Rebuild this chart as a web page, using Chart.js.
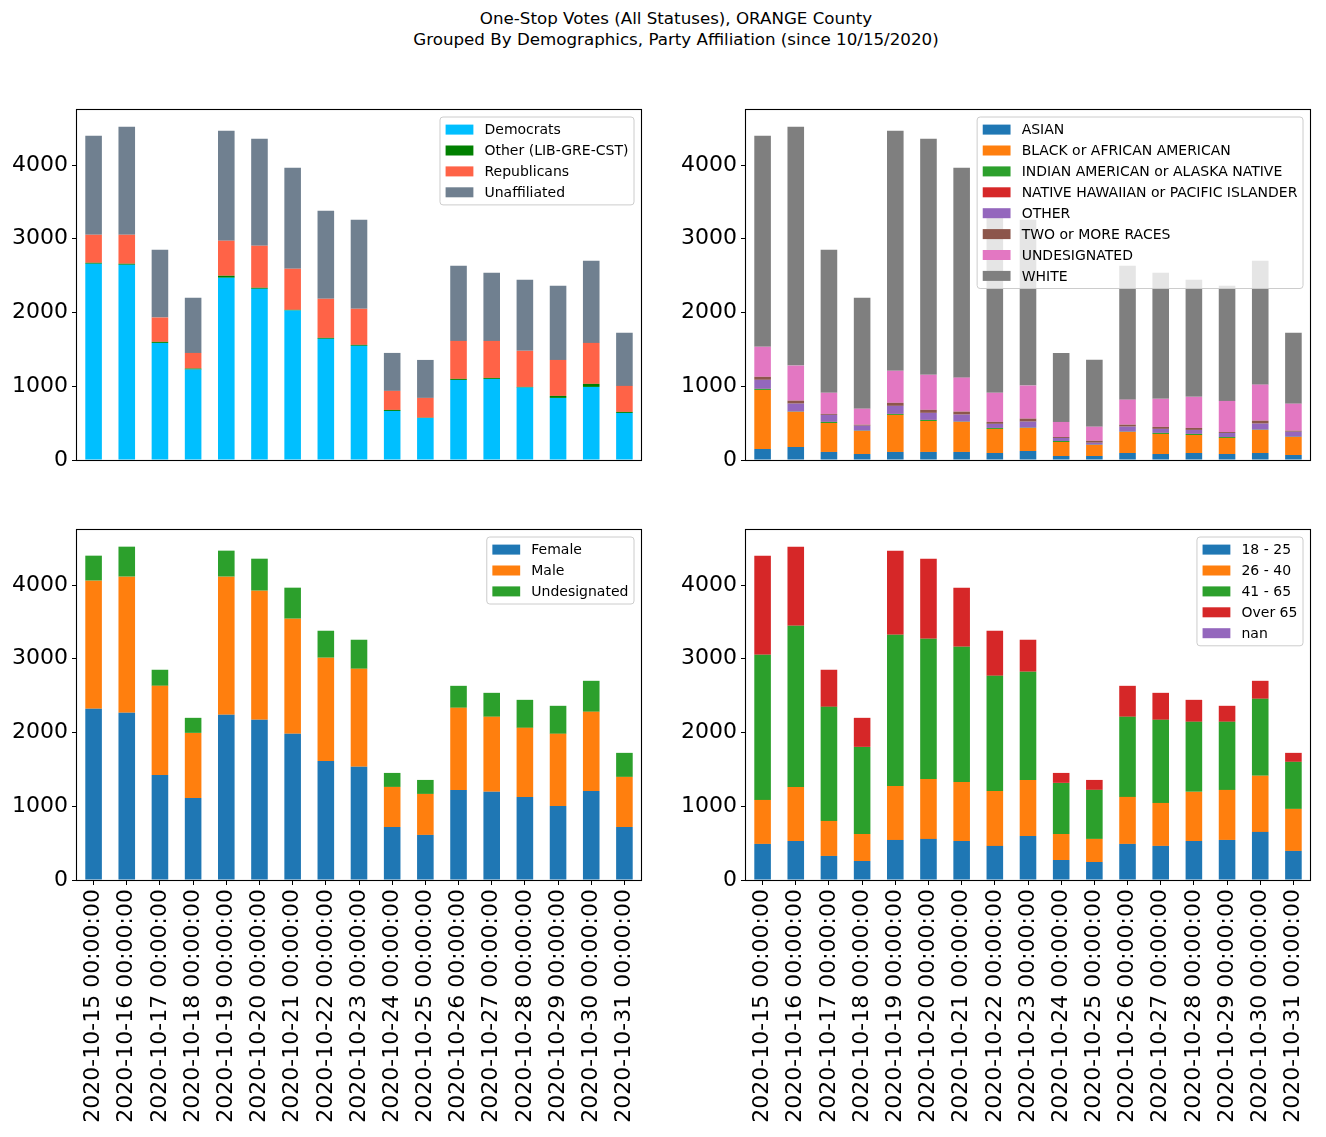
<!DOCTYPE html>
<html>
<head>
<meta charset="utf-8">
<script src="https://cdn.jsdelivr.net/npm/chart.js@4.4.1/dist/chart.umd.min.js"></script>
<style>
    body { margin: 0; background: #fff; }
    #fig { position: relative; width: 1326px; height: 1137px; overflow: hidden; font-family: "DejaVu Sans", sans-serif; }
    #titulo { position: absolute; left: 376px; width: 600px; top: 8px; text-align: center; font-size: 16.7px; line-height: 21px; color: #000; }
    canvas { position: absolute; }
</style>
</head>
<body>
<div id="fig">
    <div id="titulo">One-Stop Votes (All Statuses), ORANGE County<br>Grouped By Demographics, Party Affiliation (since 10/15/2020)</div>
    <canvas id="g1" style="left:0px;top:100px" width="663" height="370"></canvas>
    <canvas id="g2" style="left:663px;top:100px" width="663" height="370"></canvas>
    <canvas id="g3" style="left:0px;top:520px" width="663" height="617"></canvas>
    <canvas id="g4" style="left:663px;top:520px" width="663" height="617"></canvas>
</div>
<script>
// -----------------------------
// DATOS
// -----------------------------
const fechas = [
    "2020-10-15 00:00:00", "2020-10-16 00:00:00", "2020-10-17 00:00:00", "2020-10-18 00:00:00",
    "2020-10-19 00:00:00", "2020-10-20 00:00:00", "2020-10-21 00:00:00", "2020-10-22 00:00:00",
    "2020-10-23 00:00:00", "2020-10-24 00:00:00", "2020-10-25 00:00:00", "2020-10-26 00:00:00",
    "2020-10-27 00:00:00", "2020-10-28 00:00:00", "2020-10-29 00:00:00", "2020-10-30 00:00:00",
    "2020-10-31 00:00:00"
];
const yTicks = [0, 1000, 2000, 3000, 4000];

// partido
const democratas   = [2661, 2647, 1588, 1226, 2471, 2321, 2027, 1643, 1548, 665, 570, 1086, 1100, 982, 842, 991, 638];
const otros        = [13, 14, 14, 14, 27, 14, 9, 13, 13, 14, 3, 14, 13, 9, 27, 41, 14];
const republicanos = [380, 393, 330, 212, 475, 570, 557, 530, 489, 258, 269, 515, 502, 489, 488, 556, 353];
const independientes = [1344, 1466, 919, 747, 1493, 1452, 1371, 1194, 1208, 515, 515, 1018, 923, 963, 1005, 1113, 719];

// raza
const asian     = [149, 176, 109, 81, 109, 109, 109, 95, 122, 54, 54, 95, 81, 95, 81, 95, 68];
const black     = [801, 476, 393, 313, 502, 420, 407, 326, 312, 190, 150, 285, 272, 244, 218, 312, 244];
const indian    = [14, 3, 14, 3, 13, 14, 3, 13, 3, 14, 3, 3, 14, 14, 13, 3, 3];
const hawaiian  = [1, 1, 1, 0, 1, 1, 1, 1, 1, 0, 0, 1, 1, 1, 0, 1, 0];
const otherRace = [122, 108, 95, 68, 109, 95, 95, 55, 82, 41, 27, 68, 54, 54, 55, 82, 68];
const twoRaces  = [41, 41, 13, 13, 41, 41, 41, 27, 41, 13, 27, 27, 27, 27, 13, 40, 14];
const undesRace = [407, 475, 286, 217, 434, 475, 461, 394, 448, 204, 190, 339, 380, 421, 421, 489, 366];
const white     = [2863, 3240, 1940, 1506, 3257, 3202, 2847, 2469, 2249, 936, 909, 1816, 1709, 1587, 1561, 1679, 961];

// género
const female    = [2321, 2267, 1425, 1113, 2240, 2172, 1982, 1615, 1534, 719, 611, 1222, 1195, 1127, 1005, 1208, 719];
const male      = [1738, 1846, 1208, 882, 1873, 1751, 1561, 1399, 1330, 543, 556, 1113, 1018, 936, 977, 1073, 679];
const undesGen  = [339, 407, 218, 204, 353, 434, 421, 366, 394, 190, 190, 298, 325, 380, 380, 420, 326];

// edad
const edad18_25 = [489, 529, 326, 258, 543, 557, 529, 462, 597, 271, 244, 489, 462, 529, 543, 652, 394];
const edad26_40 = [597, 733, 475, 366, 733, 814, 801, 746, 760, 353, 313, 638, 583, 666, 679, 760, 570];
const edad41_65 = [1968, 2186, 1547, 1181, 2050, 1900, 1833, 1561, 1467, 693, 665, 1086, 1127, 950, 923, 1045, 638];
const edadOver65 = [1344, 1072, 503, 394, 1140, 1086, 801, 611, 434, 135, 135, 420, 366, 298, 217, 244, 122];
const edadNan   = [0, 0, 0, 0, 0, 0, 0, 0, 0, 0, 0, 0, 0, 0, 0, 0, 0];

const totales = fechas.map((f, i) => democratas[i] + otros[i] + republicanos[i] + independientes[i]);
const yMax = Math.max(...totales) * 1.05;

// -----------------------------
// PLUGIN: marco y leyenda estilo matplotlib
// -----------------------------
const marcoLeyenda = {
    id: "marcoLeyenda",
    afterDraw(chart) {
        const ctx = chart.ctx;
        const a = chart.chartArea;
        ctx.save();
        ctx.strokeStyle = "#000";
        ctx.lineWidth = 1.1;
        ctx.strokeRect(a.left - 0.5, a.top - 0.5, a.right - a.left + 1, a.bottom - a.top + 1);

        const fs = 14;
        ctx.font = fs + 'px "DejaVu Sans"';
        const items = chart.data.datasets;
        const pad = 5.6, sp = 6.9, hl = 27.8, htp = 11.1, borde = 7;
        const tw = Math.max(...items.map(d => ctx.measureText(d.label).width));
        const w = 2 * pad + hl + htp + tw;
        const h = 2 * pad + items.length * fs + (items.length - 1) * sp;
        const x = a.right - borde - w;
        const y = a.top + borde;

        ctx.beginPath();
        ctx.roundRect(x, y, w, h, 3);
        ctx.fillStyle = "rgba(255,255,255,0.8)";
        ctx.fill();
        ctx.strokeStyle = "#cccccc";
        ctx.lineWidth = 1;
        ctx.stroke();

        items.forEach((d, i) => {
            const yc = y + pad + i * (fs + sp) + fs / 2;
            ctx.fillStyle = d.backgroundColor;
            ctx.fillRect(x + pad, yc - 5, hl, 10);
            ctx.fillStyle = "#000";
            ctx.textBaseline = "middle";
            ctx.textAlign = "left";
            ctx.fillText(d.label, x + pad + hl + htp, yc + 1);
        });
        ctx.restore();
    }
};

// -----------------------------
// GRÁFICOS
// -----------------------------
function sinRelleno(s) {
    s.paddingTop = 0;
    s.paddingBottom = 0;
    s.paddingLeft = 0;
    s.paddingRight = 0;
}

function pintarGrafico(id, series, conEtiquetas, anchoEjeY) {
    const fuente = { family: "DejaVu Sans", size: 22 };
    return new Chart(document.getElementById(id), {
        type: "bar",
        data: {
            labels: fechas,
            datasets: series.map(s => ({
                label: s.label,
                data: s.data,
                backgroundColor: s.color,
                borderWidth: 0,
                barPercentage: 0.5,
                categoryPercentage: 1.0
            }))
        },
        options: {
            responsive: false,
            animation: false,
            events: [],
            layout: { padding: { top: 10, right: 663 - 564 - anchoEjeY, left: 0, bottom: 0 } },
            plugins: { legend: { display: false }, tooltip: { enabled: false } },
            scales: {
                x: {
                    stacked: true,
                    offset: true,
                    border: { display: false },
                    grid: { offset: false, drawOnChartArea: false, drawTicks: conEtiquetas, tickLength: 5, color: "#000" },
                    ticks: { display: conEtiquetas, autoSkip: false, minRotation: 90, maxRotation: 90, font: fuente, color: "#000", padding: 4 },
                    afterFit: s => { s.height = conEtiquetas ? 257 : 10; sinRelleno(s); }
                },
                y: {
                    stacked: true,
                    min: 0,
                    max: yMax,
                    border: { display: false },
                    grid: { drawOnChartArea: false, drawTicks: true, tickLength: 5, color: "#000" },
                    ticks: { font: fuente, color: "#000", padding: 4, callback: v => String(v) },
                    afterBuildTicks: s => { s.ticks = yTicks.map(v => ({ value: v })); },
                    afterFit: s => { s.width = anchoEjeY; sinRelleno(s); }
                }
            }
        },
        plugins: [marcoLeyenda]
    });
}

pintarGrafico("g1", [
    { label: "Democrats", data: democratas, color: "#00bfff" },
    { label: "Other (LIB-GRE-CST)", data: otros, color: "#008000" },
    { label: "Republicans", data: republicanos, color: "#ff6347" },
    { label: "Unaffiliated", data: independientes, color: "#708090" }
], false, 77);

pintarGrafico("g2", [
    { label: "ASIAN", data: asian, color: "#1f77b4" },
    { label: "BLACK or AFRICAN AMERICAN", data: black, color: "#ff7f0e" },
    { label: "INDIAN AMERICAN or ALASKA NATIVE", data: indian, color: "#2ca02c" },
    { label: "NATIVE HAWAIIAN or PACIFIC ISLANDER", data: hawaiian, color: "#d62728" },
    { label: "OTHER", data: otherRace, color: "#9467bd" },
    { label: "TWO or MORE RACES", data: twoRaces, color: "#8c564b" },
    { label: "UNDESIGNATED", data: undesRace, color: "#e377c2" },
    { label: "WHITE", data: white, color: "#7f7f7f" }
], false, 83);

pintarGrafico("g3", [
    { label: "Female", data: female, color: "#1f77b4" },
    { label: "Male", data: male, color: "#ff7f0e" },
    { label: "Undesignated", data: undesGen, color: "#2ca02c" }
], true, 77);

pintarGrafico("g4", [
    { label: "18 - 25", data: edad18_25, color: "#1f77b4" },
    { label: "26 - 40", data: edad26_40, color: "#ff7f0e" },
    { label: "41 - 65", data: edad41_65, color: "#2ca02c" },
    { label: "Over 65", data: edadOver65, color: "#d62728" },
    { label: "nan", data: edadNan, color: "#9467bd" }
], true, 83);
</script>
</body>
</html>
